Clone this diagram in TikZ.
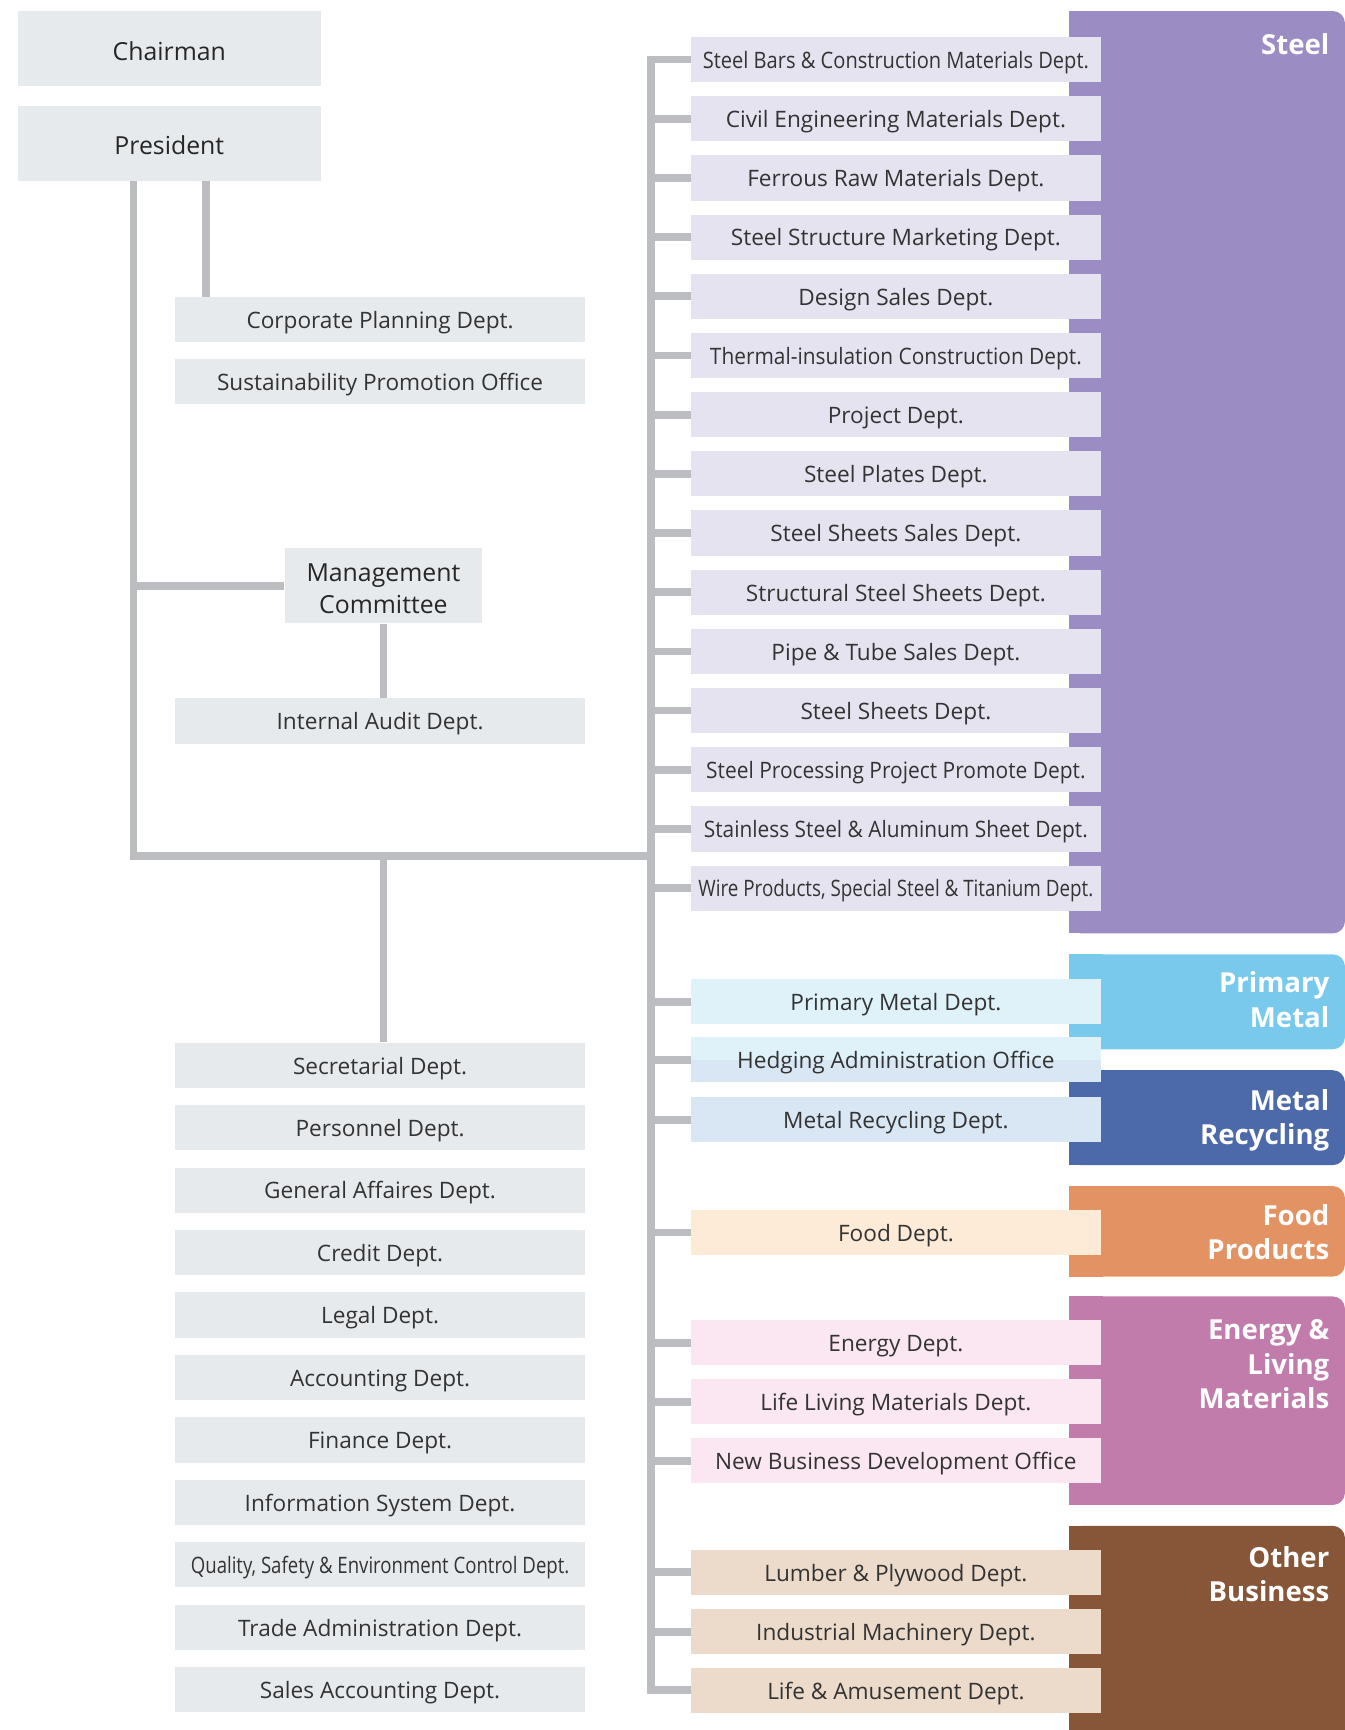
\documentclass[tikz,border=0pt]{standalone}
\usepackage{fontspec}
\setmainfont{Open Sans}
\usepackage{graphicx}
\newsavebox\fitbx
\newcommand\fitw[2]{\sbox\fitbx{#2}\ifdim\wd\fitbx>#1\relax\resizebox{#1}{\ht\fitbx}{\usebox\fitbx}\else\usebox\fitbx\fi}
\definecolor{gbox}{HTML}{E7EAED}
\definecolor{conn}{HTML}{BCBDC0}
\definecolor{txt}{HTML}{333333}
\definecolor{stB}{HTML}{9C8CC4}\definecolor{stL}{HTML}{E6E3F0}
\definecolor{pmB}{HTML}{79C9EC}\definecolor{pmL}{HTML}{DFF2FA}
\definecolor{mrB}{HTML}{4C69AA}\definecolor{mrL}{HTML}{D9E6F4}
\definecolor{fdB}{HTML}{E39363}\definecolor{fdL}{HTML}{FDEBD8}
\definecolor{enB}{HTML}{C27CAB}\definecolor{enL}{HTML}{FBE7F1}
\definecolor{obB}{HTML}{875639}\definecolor{obL}{HTML}{ECDBCA}
\tikzset{
  dbox/.style={inner sep=0, minimum width=371, minimum height=41, text height=17, text depth=1, text=txt, font=\fontsize{20.5}{24}\selectfont},
  lbox/.style={dbox, fill=gbox},
  topbox/.style={inner sep=0, fill=gbox},
  toptext/.style={inner sep=0, text=black!85, font=\fontsize{22.5}{29}\selectfont, align=center},
  head/.style={inner sep=0, text=white, align=right, anchor=east, font=\bfseries\fontsize{25}{31}\selectfont},
  conn/.style={draw=conn, line width=7},
}
\begin{document}
\begin{tikzpicture}[x=1pt,y=-1pt]
\useasboundingbox (0,0) rectangle (1219,1568);
\clip (0,0) rectangle (1219,1568);
% group blocks
\newcommand\blk[3]{\fill[#1, rounded corners=11] (969,#2) rectangle (1219,#3); \fill[#1] (969,#2) rectangle (1000,#3);}
\blk{stB}{10}{846}
\blk{pmB}{865}{951}
\blk{mrB}{970}{1056}
\blk{fdB}{1075}{1157}
\blk{enB}{1175}{1364}
\blk{obB}{1383}{1600}
\node[head] (hst) at (1205,40) {Steel};
\node[head] (hpm) at (1205,906) {Primary\\Metal};
\node[head] (hmr) at (1205,1015.5) {Metal\\Recycling};
\node[head] (hfd) at (1205,1117) {Food\\Products};
\node[head] (hen) at (1205,1236.5) {Energy \&\\Living\\Materials};
\node[head] (hob) at (1205,1427) {Other\\Business};
% top boxes
\node[topbox, minimum width=275, minimum height=68] (ch) at (153.5,44) {};
\node[toptext] (cht) at ([yshift=-2]ch.center) {Chairman};
\node[topbox, minimum width=275, minimum height=68] (pr) at (153.5,130) {};
\node[toptext] (prt) at ([yshift=-2]pr.center) {President};
\node[topbox, minimum width=179, minimum height=68] (mc) at (347.5,531) {};
\node[toptext] (mct) at ([yshift=-2.5]mc.center) {Management\\Committee};
\node[lbox] (cp) at (344.5,289.5) {Corporate Planning Dept.};
\node[lbox] (sp) at (344.5,345.5) {Sustainability Promotion Office};
\node[lbox] (ia) at (344.5,653.5) {Internal Audit Dept.};
% left column
\foreach \n/\i/\t in {sec/0/{Secretarial Dept.}, per/1/{Personnel Dept.}, gen/2/{General Affaires Dept.}, cre/3/{Credit Dept.}, leg/4/{Legal Dept.}, acc/5/{Accounting Dept.}, fin/6/{Finance Dept.}, inf/7/{Information System Dept.}, qua/8/{Quality, Safety \& Environment Control Dept.}, tra/9/{Trade Administration Dept.}, sal/10/{Sales Accounting Dept.}}
  \node[lbox] (\n) at (344.5,965.5+56.6*\i) {\fitw{343pt}{\t}};
% steel depts
\foreach \n/\i/\w/\t in {s1/0/350/{Steel Bars \& Construction Materials Dept.}, s2/1/352/{Civil Engineering Materials Dept.}, s3/2/352/{Ferrous Raw Materials Dept.}, s4/3/352/{Steel Structure Marketing Dept.}, s5/4/352/{Design Sales Dept.}, s6/5/337/{Thermal-insulation Construction Dept.}, s7/6/352/{Project Dept.}, s8/7/352/{Steel Plates Dept.}, s9/8/352/{Steel Sheets Sales Dept.}, s10/9/352/{Structural Steel Sheets Dept.}, s11/10/352/{Pipe \& Tube Sales Dept.}, s12/11/352/{Steel Sheets Dept.}, s13/12/344/{Steel Processing Project Promote Dept.}, s14/13/348/{Stainless Steel \& Aluminum Sheet Dept.}, s15/14/358/{Wire Products, Special Steel \& Titanium Dept.}}
  \node[dbox, fill=stL] (\n) at (812,54+53.64*\i) {\fitw{\w pt}{\t}};
\node[dbox, fill=pmL] (pm) at (812,908) {Primary Metal Dept.};
\node[dbox, fill=pmL, path picture={\fill[mrL] (path picture bounding box.west) rectangle (path picture bounding box.south east);}] (hg) at (812,960.5) {Hedging Administration Office};
\node[dbox, fill=mrL] (mr) at (812,1015) {Metal Recycling Dept.};
\node[dbox, fill=fdL] (fd) at (812,1117) {Food Dept.};
\node[dbox, fill=enL] (en) at (812,1217) {Energy Dept.};
\node[dbox, fill=enL] (ll) at (812,1270.5) {Life Living Materials Dept.};
\node[dbox, fill=enL] (nb) at (812,1324) {\fitw{340pt}{New Business Development Office}};
\node[dbox, fill=obL] (lu) at (812,1425) {Lumber \& Plywood Dept.};
\node[dbox, fill=obL] (im) at (812,1479) {Industrial Machinery Dept.};
\node[dbox, fill=obL] (la) at (812,1532) {Life \& Amusement Dept.};
% connectors
\coordinate (lx) at (121,0);
\coordinate (cx) at (187,0);
\coordinate (sx) at (590,0);
\coordinate (tr) at (0,776);
\draw[conn] (pr.south -| lx) -- (tr -| lx) -- (tr -| sx);
\draw[conn] (mc.west) -- (mc.west -| lx);
\draw[conn] (pr.south -| cx) -- (cp.north -| cx);
\draw[conn] (mc.south) -- (ia.north -| mc.south);
\draw[conn] (sec.north -| mc.south) -- (tr -| mc.south);
\draw[conn] (s1.west) -- (s1.west -| sx) -- (la.west -| sx) -- (la.west);
\foreach \n in {s2,s3,s4,s5,s6,s7,s8,s9,s10,s11,s12,s13,s14,s15,pm,hg,mr,fd,en,ll,nb,lu,im}
  \draw[conn] (\n.west) -- (\n.west -| sx);
\end{tikzpicture}
\end{document}
